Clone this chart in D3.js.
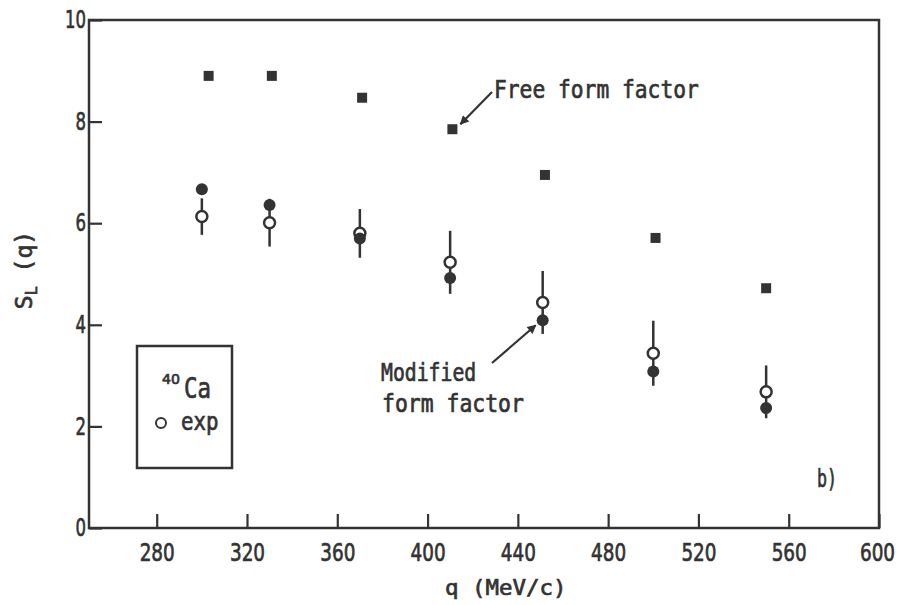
<!DOCTYPE html>
<html>
<head>
<meta charset="utf-8">
<script src="https://cdn.jsdelivr.net/npm/d3@7"></script>
<style>
  body { margin: 0; background: #fff; }
  text { fill: #333; stroke: #333; stroke-width: 0.7px; }
</style>
</head>
<body>
<svg id="chart" width="906" height="605"></svg>
<script>
// S_L(q) for 40Ca: experiment vs. free and modified nucleon form factors
const qExp     = [300, 330, 370, 410, 451, 500, 550];
const qFree    = [303, 331, 371, 411, 452, 501, 550];
const freeFF   = [8.90, 8.90, 8.47, 7.85, 6.95, 5.71, 4.72];
const expSL    = [6.13, 6.01, 5.80, 5.23, 4.44, 3.44, 2.68];
const expErr   = [0.36, 0.47, 0.48, 0.62, 0.62, 0.64, 0.52];
const modFF    = [6.67, 6.36, 5.70, 4.92, 4.09, 3.08, 2.36];
const xTicks   = [280, 320, 360, 400, 440, 480, 520, 560, 600];
const yTicks   = [0, 2, 4, 6, 8, 10];

const INK = "#333";
const MONO = "'DejaVu Sans Mono', monospace";
const SANS = "'DejaVu Sans', sans-serif";

const svg = d3.select("#chart");
const x = d3.scaleLinear().domain([250, 600]).range([89, 879]);
const y = d3.scaleLinear().domain([0, 10]).range([528, 20]);

// condensed lettering: squeeze a text to a given advance per character
function fit(sel, perChar) {
  sel.attr("textLength", function () { return this.textContent.length * perChar; })
     .attr("lengthAdjust", "spacingAndGlyphs");
}

// frame
svg.append("rect")
  .attr("x", x.range()[0]).attr("y", y.range()[1])
  .attr("width", x.range()[1] - x.range()[0])
  .attr("height", y.range()[0] - y.range()[1])
  .attr("fill", "none").attr("stroke", INK).attr("stroke-width", 2.5);

// x axis (ticks point inward)
const gx = svg.append("g")
  .attr("transform", `translate(0,${y(0)})`)
  .call(d3.axisBottom(x).tickValues(xTicks).tickSize(-14).tickPadding(16));
gx.select(".domain").remove();
gx.selectAll("line").attr("stroke", INK).attr("stroke-width", 2.2);
gx.selectAll("text").attr("font-family", SANS).attr("font-size", 24).attr("fill", INK)
  .call(fit, 11.7);
gx.selectAll(".tick").filter(d => d === 600).select("text").attr("x", -2);

// y axis (ticks point inward)
const gy = svg.append("g")
  .attr("transform", `translate(${x(250)},0)`)
  .call(d3.axisLeft(y).tickValues(yTicks).tickSize(-13).tickPadding(3));
gy.select(".domain").remove();
gy.selectAll("line").attr("stroke", INK).attr("stroke-width", 2.2);
gy.selectAll("text").attr("font-family", SANS).attr("font-size", 24).attr("fill", INK)
  .call(fit, 10.5);

// axis titles
svg.append("text")
  .attr("x", 445).attr("y", 595)
  .attr("font-family", MONO).attr("font-size", 22)
  .text("q (MeV/c)")
  .call(fit, 13.5);

const yt = svg.append("text")
  .attr("transform", "translate(32,270) rotate(-90)")
  .attr("text-anchor", "middle")
  .attr("font-family", MONO).attr("font-size", 23);
yt.append("tspan").text("S");
yt.append("tspan").attr("font-size", 15).attr("dy", 5).text("L");
yt.append("tspan").attr("dy", -5).text(" (q)");

// free form factor: filled squares
const sq = 10;
svg.append("g").selectAll("rect")
  .data(qFree.map((q, i) => ({ q, v: freeFF[i] })))
  .join("rect")
  .attr("x", d => x(d.q) - sq / 2).attr("y", d => y(d.v) - sq / 2)
  .attr("width", sq).attr("height", sq)
  .attr("fill", INK);

// experimental points with error bars
const expData = qExp.map((q, i) => ({ q, v: expSL[i], e: expErr[i], m: modFF[i] }));
svg.append("g").selectAll("line")
  .data(expData)
  .join("line")
  .attr("x1", d => x(d.q)).attr("x2", d => x(d.q))
  .attr("y1", d => y(d.v - d.e)).attr("y2", d => y(d.v + d.e))
  .attr("stroke", INK).attr("stroke-width", 2.5);

svg.append("g").selectAll("circle")
  .data(expData)
  .join("circle")
  .attr("cx", d => x(d.q)).attr("cy", d => y(d.v)).attr("r", 5.5)
  .attr("fill", "#fff").attr("stroke", INK).attr("stroke-width", 2.5);

// modified form factor: filled circles
svg.append("g").selectAll("circle")
  .data(expData)
  .join("circle")
  .attr("cx", d => x(d.q)).attr("cy", d => y(d.m)).attr("r", 6)
  .attr("fill", INK);

// arrowhead
svg.append("defs").append("marker")
  .attr("id", "arrow").attr("viewBox", "0 0 10 10")
  .attr("refX", 9).attr("refY", 5)
  .attr("markerWidth", 12).attr("markerHeight", 9)
  .attr("markerUnits", "userSpaceOnUse")
  .attr("orient", "auto")
  .append("path").attr("d", "M0,0 L10,5 L0,10 Z").attr("fill", INK);

// annotations
svg.append("text")
  .attr("x", 494).attr("y", 98)
  .attr("font-family", MONO).attr("font-size", 25)
  .text("Free form factor").call(fit, 12.8);
svg.append("line")
  .attr("x1", 492).attr("y1", 92).attr("x2", x(qFree[3]) + 8).attr("y2", y(freeFF[3]) - 5)
  .attr("stroke", INK).attr("stroke-width", 2.2).attr("marker-end", "url(#arrow)");

svg.append("text")
  .attr("x", 381).attr("y", 381)
  .attr("font-family", MONO).attr("font-size", 24)
  .text("Modified").call(fit, 11.9);
svg.append("text")
  .attr("x", 382).attr("y", 412)
  .attr("font-family", MONO).attr("font-size", 24)
  .text("form factor").call(fit, 12.9);
svg.append("line")
  .attr("x1", 492).attr("y1", 363).attr("x2", x(qExp[4]) - 7).attr("y2", y(modFF[4]) + 5)
  .attr("stroke", INK).attr("stroke-width", 2.2).attr("marker-end", "url(#arrow)");

svg.append("text")
  .attr("x", 817).attr("y", 487)
  .attr("font-family", MONO).attr("font-size", 24)
  .text("b)").call(fit, 10);

// legend box
const lg = svg.append("g");
lg.append("rect")
  .attr("x", 137).attr("y", 346).attr("width", 95).attr("height", 122)
  .attr("fill", "none").attr("stroke", INK).attr("stroke-width", 2.5);
lg.append("text")
  .attr("x", 162).attr("y", 384)
  .attr("font-family", SANS).attr("font-size", 14)
  .text("40").call(fit, 9);
lg.append("text")
  .attr("x", 184).attr("y", 398)
  .attr("font-family", MONO).attr("font-size", 28)
  .text("Ca").call(fit, 13.5);
lg.append("circle")
  .attr("cx", 161).attr("cy", 423).attr("r", 5)
  .attr("fill", "#fff").attr("stroke", INK).attr("stroke-width", 2);
lg.append("text")
  .attr("x", 181).attr("y", 430)
  .attr("font-family", MONO).attr("font-size", 24)
  .text("exp").call(fit, 12.5);
</script>
</body>
</html>
